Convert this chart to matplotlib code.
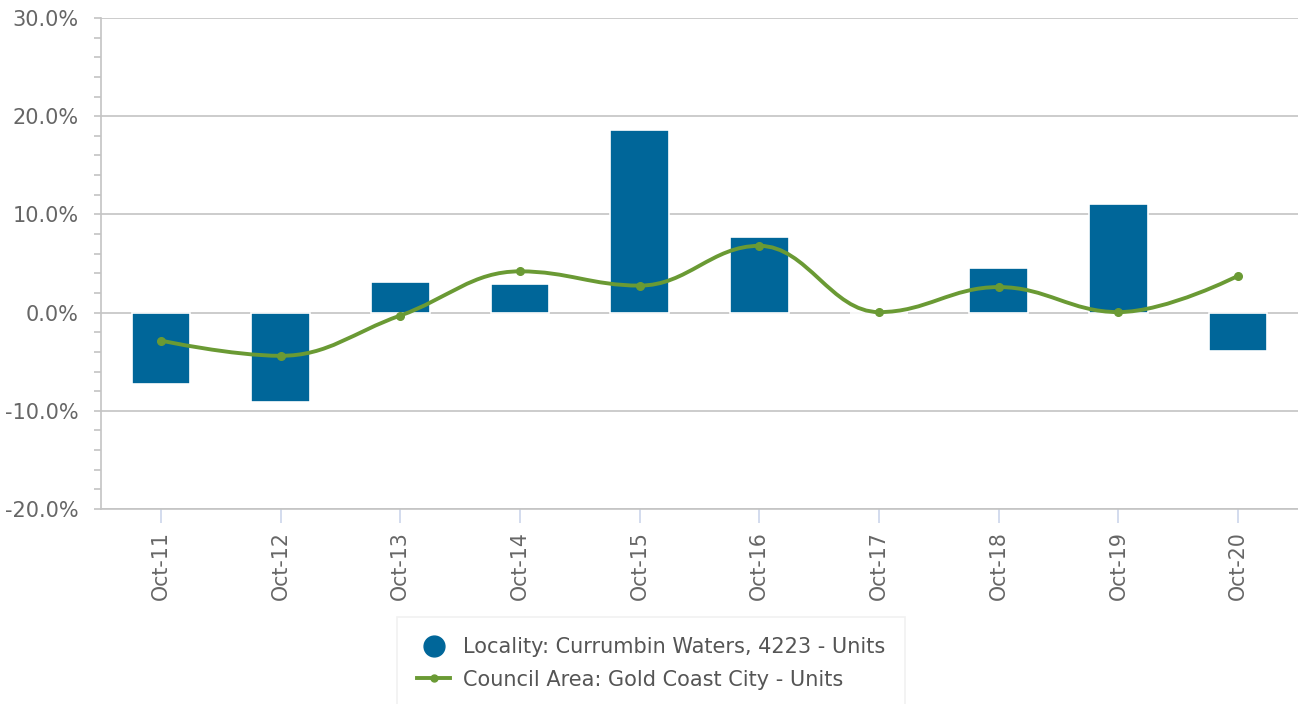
import matplotlib
matplotlib.use("Agg")
import matplotlib.pyplot as plt
from matplotlib.path import Path
from matplotlib.patches import PathPatch
from matplotlib.lines import Line2D
from matplotlib.ticker import MultipleLocator, FuncFormatter
import numpy as np

categories = ["Oct-11", "Oct-12", "Oct-13", "Oct-14", "Oct-15",
              "Oct-16", "Oct-17", "Oct-18", "Oct-19", "Oct-20"]
locality = [-7.3, -9.1, 3.1, 2.9, 18.6, 7.7, 0.0, 4.5, 11.1, -3.9]
council = [-2.85, -4.4, -0.3, 4.2, 2.75, 6.8, 0.05, 2.6, 0.05, 3.75]
locality_label = "Locality: Currumbin Waters, 4223 - Units"
council_label = "Council Area: Gold Coast City - Units"

BAR = "#006699"
LINE = "#6a9a34"
GRID = "#c4c4c4"
TXT = "#666666"

plt.rcParams['font.family'] = ['DejaVu Sans']
fig = plt.figure(figsize=(12.98, 7.04), dpi=100)
ax = fig.add_axes([101/1298, 1-509/704, 1-101/1298, (509-18)/704])

x = np.arange(len(categories))
ax.bar(x, locality, width=0.49, color=BAR, edgecolor="white", linewidth=1.2, zorder=3)


def hc_spline(xs, ys, smoothing=1.5):
    denom = smoothing + 1
    n = len(xs)
    lc = [None]*n
    rc = [None]*n
    for i in range(n):
        px, py = xs[i], ys[i]
        if 0 < i < n-1:
            lx, ly = xs[i-1], ys[i-1]
            nx, ny = xs[i+1], ys[i+1]
            lcx = (smoothing*px + lx)/denom
            lcy = (smoothing*py + ly)/denom
            rcx = (smoothing*px + nx)/denom
            rcy = (smoothing*py + ny)/denom
            if rcx != lcx:
                corr = ((rcy - lcy)*(rcx - px))/(rcx - lcx) + py - rcy
                lcy += corr
                rcy += corr
            if lcy > ly and lcy > py:
                lcy = max(ly, py); rcy = 2*py - lcy
            elif lcy < ly and lcy < py:
                lcy = min(ly, py); rcy = 2*py - lcy
            if rcy > ny and rcy > py:
                rcy = max(ny, py); lcy = 2*py - rcy
            elif rcy < ny and rcy < py:
                rcy = min(ny, py); lcy = 2*py - rcy
            lc[i] = (lcx, lcy); rc[i] = (rcx, rcy)
        else:
            lc[i] = (px, py); rc[i] = (px, py)
    verts = [(xs[0], ys[0])]
    codes = [Path.MOVETO]
    for i in range(1, n):
        verts += [rc[i-1], lc[i], (xs[i], ys[i])]
        codes += [Path.CURVE4]*3
    return Path(verts, codes)


path = hc_spline(list(x.astype(float)), council)
ax.add_patch(PathPatch(path, facecolor="none", edgecolor=LINE, linewidth=2.8,
                       zorder=4, capstyle="round", joinstyle="round"))
ax.plot(x, council, linestyle="none", marker="o", markersize=5.5,
        color=LINE, zorder=5)

ax.set_xlim(-0.5, len(categories)-0.5)
ax.set_ylim(-20, 30)
ax.yaxis.set_major_locator(MultipleLocator(10))
ax.yaxis.set_minor_locator(MultipleLocator(2))
ax.yaxis.set_major_formatter(FuncFormatter(lambda v, p: f"{v:.1f}%"))
ax.grid(axis="y", which="major", color=GRID, linewidth=1.2, zorder=0)
ax.set_axisbelow(True)

ax.set_xticks(x)
ax.set_xticklabels(categories, rotation=90, fontsize=14.8, color=TXT)
ax.tick_params(axis="x", length=10, width=1.2, color="#ccd6eb", pad=6)
ax.tick_params(axis="y", which="major", length=5, width=1.2, color=GRID,
               labelsize=15, labelcolor=TXT, pad=11)
ax.tick_params(axis="y", which="minor", length=5, width=1.2, color=GRID)

for s in ["top", "right"]:
    ax.spines[s].set_visible(False)
ax.spines["left"].set_color(GRID)
ax.spines["left"].set_linewidth(1.2)
ax.spines["bottom"].set_color(GRID)
ax.spines["bottom"].set_linewidth(1.2)

handles = [
    Line2D([], [], linestyle="none", marker="o", markersize=15, color=BAR),
    Line2D([], [], color=LINE, linewidth=2.8, marker="o", markersize=5),
]
leg = fig.legend(handles, [locality_label, council_label],
                 loc="upper center", bbox_to_anchor=(651/1298, 1-617/704),
                 frameon=True, fontsize=15, labelcolor="#555555",
                 handlelength=1.6, handletextpad=0.6, borderpad=0.95,
                 labelspacing=0.62, fancybox=False, borderaxespad=0)
leg.get_frame().set_edgecolor("#eeeeee")
leg.get_frame().set_linewidth(1.2)

fig.savefig("out.png", dpi=100)
